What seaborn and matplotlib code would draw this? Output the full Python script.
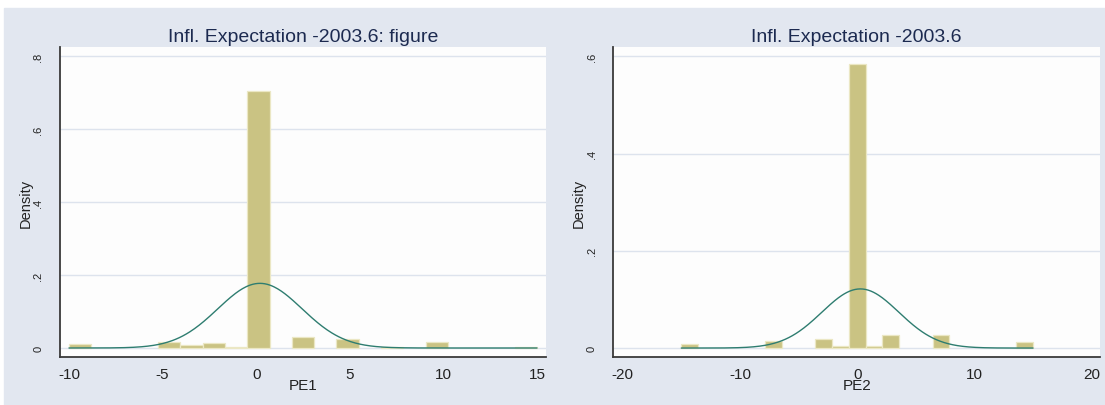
import numpy as np
import pandas as pd
import matplotlib
matplotlib.use("Agg")
import matplotlib.pyplot as plt
import seaborn as sns
from matplotlib.patches import Rectangle

# ---- data -------------------------------------------------------------
titles = ["Infl. Expectation -2003.6: figure", "Infl. Expectation -2003.6"]
xlabels = ["PE1", "PE2"]

# PE1: 21 equal-width bins over the data range, density per bin
pe1_range = (-10.0, 15.0)
pe1_density = [0.0101, 0, 0, 0, 0.0173, 0.0073, 0.0128, 0.0037, 0.705, 0,
               0.030, 0, 0.0247, 0, 0.0036, 0, 0.0164, 0, 0, 0, 0.002]
pe1_mean, pe1_sd = 0.2, 2.25
pe1_xticks = [-10, -5, 0, 5, 10, 15]
pe1_yticks = [0, 0.2, 0.4, 0.6, 0.8]
pe1_yticklabels = ["0", ".2", ".4", ".6", ".8"]

# PE2: 21 equal-width bins over the data range, density per bin
pe2_range = (-15.0, 15.0)
pe2_density = [0.0076, 0, 0, 0, 0, 0.0144, 0, 0, 0.0185, 0.0035, 0.584,
               0.0048, 0.0274, 0, 0, 0.0274, 0, 0, 0, 0, 0.0123]
pe2_mean, pe2_sd = 0.27, 3.28
pe2_xticks = [-20, -10, 0, 10, 20]
pe2_yticks = [0, 0.2, 0.4, 0.6]
pe2_yticklabels = ["0", ".2", ".4", ".6"]

# ---- style ------------------------------------------------------------
sns.set_theme(style="white")
plt.rcParams["font.family"] = ["Liberation Sans", "DejaVu Sans"]

PANEL_BG = "#e2e7f0"
PLOT_BG = "#fdfdfd"
GRID = "#dde3ed"
BAR = "#cac383"
BAR_EDGE = "#ebe7c4"
CURVE = "#2e7d70"
AXIS = "#3a3a3a"
TITLE = "#1c2a50"
LABEL = "#222222"

W, H = 1105, 406
fig = plt.figure(figsize=(W / 100, H / 100), dpi=100, facecolor="white")

# graph region background behind both panels
fig.patches.append(Rectangle((4 / W, 0), (W - 4) / W, 397 / H,
                             transform=fig.transFigure, color=PANEL_BG, zorder=-5))


def panel(rect, title, xlabel, rng, dens, mu, sd, xticks, yticks, yticklabels,
          xlim, ylim):
    ax = fig.add_axes(rect)
    ax.set_zorder(1)
    ax.set_facecolor(PLOT_BG)
    n = len(dens)
    edges = [float(e) for e in np.linspace(rng[0], rng[1], n + 1)]
    centers = [(a + b) / 2 for a, b in zip(edges[:-1], edges[1:])]
    df = pd.DataFrame({"x": centers, "w": dens})
    sns.histplot(data=df, x="x", weights="w", bins=edges, stat="count",
                 color=BAR, edgecolor=BAR_EDGE, linewidth=0.9, alpha=1,
                 ax=ax, zorder=2)
    for p in ax.patches:
        if p.get_height() <= 0:
            p.set_visible(False)

    # normal density overlay
    xs = np.linspace(rng[0], rng[1], 400)
    curve = pd.DataFrame({"x": xs,
                          "y": np.exp(-0.5 * ((xs - mu) / sd) ** 2) / (sd * np.sqrt(2 * np.pi))})
    sns.lineplot(data=curve, x="x", y="y", color=CURVE, linewidth=1.0,
                 ax=ax, zorder=3)

    ax.set_xlim(*xlim)
    ax.set_ylim(*ylim)
    ax.set_xticks(xticks)
    ax.set_xticklabels([str(t) for t in xticks], fontsize=11,
                       fontstretch="condensed", color=LABEL)
    ax.set_yticks(yticks)
    ax.set_yticklabels(yticklabels, rotation=90, va="center", fontsize=8,
                       color=LABEL)
    ax.tick_params(axis="x", length=4, width=1.1, color=AXIS, pad=3)
    ax.tick_params(axis="y", length=4, width=1.1, color=AXIS, pad=8)
    ax.yaxis.grid(True, color=GRID, linewidth=1.0, zorder=0)
    ax.set_axisbelow(True)
    for s in ("top", "right"):
        ax.spines[s].set_visible(False)
    for s in ("left", "bottom"):
        ax.spines[s].set_color(AXIS)
        ax.spines[s].set_linewidth(1.3)

    ax.set_title(title, fontsize=14, color=TITLE, pad=4.8)
    ax.set_xlabel(xlabel, fontsize=11, color=LABEL)
    ax.xaxis.set_label_coords(0.5, -0.068)
    ax.set_ylabel("Density", fontsize=10.5, color=LABEL)
    ax.yaxis.set_label_coords(-0.056, 0.5)
    return ax


panel([60 / W, 47.7 / H, 486 / W, 310 / H], titles[0], xlabels[0],
      pe1_range, pe1_density, pe1_mean, pe1_sd, pe1_xticks, pe1_yticks,
      pe1_yticklabels, (-10.48, 15.48), (-0.0255, 0.8247))
panel([613.3 / W, 47.7 / H, 486.7 / W, 310 / H], titles[1], xlabels[1],
      pe2_range, pe2_density, pe2_mean, pe2_sd, pe2_xticks, pe2_yticks,
      pe2_yticklabels, (-20.8, 20.71), (-0.019, 0.6185))

fig.savefig("out.png", dpi=100, facecolor="white")
